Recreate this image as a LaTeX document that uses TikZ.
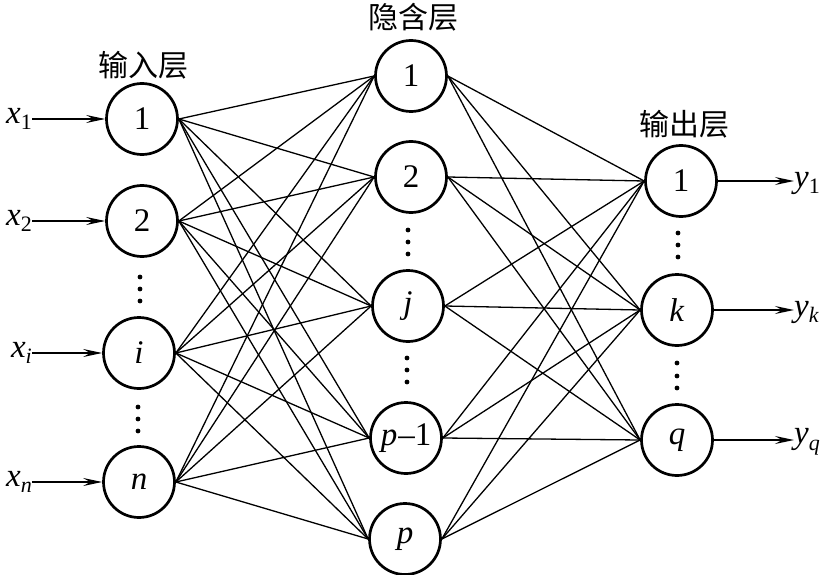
\documentclass[tikz,border=0pt]{standalone}
\usepackage{fontspec}
\setmainfont{Liberation Serif}
\newfontfamily\cjk{Noto Sans CJK SC}
\usetikzlibrary{arrows.meta}
\newcommand\lsub[1]{\raisebox{-0.45ex}{\fontsize{22}{22}\selectfont #1}}
\tikzset{
  neuron/.style={circle, draw, line width=2.7pt, minimum size=71pt, inner sep=0pt, font=\fontsize{33}{33}\selectfont},
  edge/.style={line width=1.3pt},
  io/.style={line width=1.4pt, -{Stealth[length=19pt,width=8pt,inset=7pt]}},
  lbl/.style={font=\fontsize{30}{30}\selectfont\cjk, inner sep=0pt},
  var/.style={font=\fontsize{33}{33}\selectfont, inner sep=0pt},
  dotm/.style={circle, fill, inner sep=0pt, minimum size=4.8pt}
}
\begin{document}
\begin{tikzpicture}[x=1pt,y=-1pt]
\useasboundingbox (0,0) rectangle (822,575);
% input layer
\node[neuron] (i1) at (142,119) {1};
\node[neuron] (i2) at (142,221) {2};
\node[neuron] (ii) at (139,353) {\textit{i}};
\node[neuron] (in) at (139,482) {\textit{n}};
% hidden layer
\node[neuron] (h1) at (411,76) {1};
\node[neuron] (h2) at (411,177) {2};
\node[neuron] (hj) at (408,306) {\textit{j}};
\node[neuron] (hp1) at (406,438) {\textit{p}\kern1pt--1};
\node[neuron] (hp) at (405,539) {\textit{p}};
% output layer
\node[neuron] (o1) at (681,181) {1};
\node[neuron] (ok) at (677,310) {\textit{k}};
\node[neuron] (oq) at (677,440) {\textit{q}};
% layer titles
\node[lbl] (t1) at (143,65) {输入层};
\node[lbl] (t2) at (413,17) {隐含层};
\node[lbl] (t3) at (684,124) {输出层};
% dots
\foreach \n/\x/\y in {a/140/277,b/140/289,c/140/301,d/138/407,e/138/419,f/138/431,
  g/408/230,h/408/242,k/408/254,l/407/358,m/407/370,o/407/382,
  p/678/233,q/678/245,r/678/257,s/677/363,t/677/376,u/677/388}
  \node[dotm] (dot\n) at (\x,\y) {};
% connections
\foreach \a in {i1,i2,ii,in}
  \foreach \b in {h1,h2,hj,hp1,hp}
    \draw[edge] (\a.east) -- (\b.west);
\foreach \a in {h1,h2,hj,hp1,hp}
  \foreach \b in {o1,ok,oq}
    \draw[edge] (\a.east) -- (\b.west);
% inputs
\node[var, anchor=east] (x1) at (32,119) {\textit{x}\lsub{1}};
\node[var, anchor=east] (x2) at (32,221) {\textit{x}\lsub{2}};
\node[var, anchor=east] (xi) at (32,353) {\textit{x}\lsub{\textit{i}}};
\node[var, anchor=east] (xn) at (32,482) {\textit{x}\lsub{\textit{n}}};
\draw[io] (x1.east) -- (i1.west);
\draw[io] (x2.east) -- (i2.west);
\draw[io] (xi.east) -- (ii.west);
\draw[io] (xn.east) -- (in.west);
% outputs
\node[var, anchor=west] (y1) at (794,183) {\textit{y}\lsub{1}};
\node[var, anchor=west] (yk) at (794,312) {\textit{y}\lsub{\textit{k}}};
\node[var, anchor=west] (yq) at (794,442) {\textit{y}\lsub{\textit{q}}};
\draw[io] (o1.east) -- (y1.west |- o1.east);
\draw[io] (ok.east) -- (yk.west |- ok.east);
\draw[io] (oq.east) -- (yq.west |- oq.east);
\end{tikzpicture}
\end{document}
